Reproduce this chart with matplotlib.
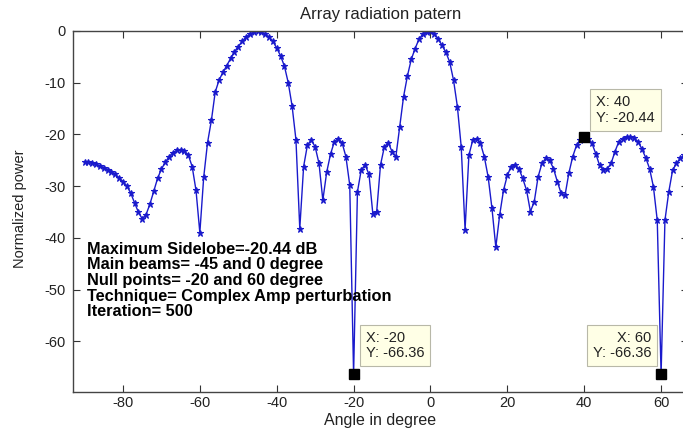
import matplotlib
matplotlib.use("Agg")
import matplotlib.pyplot as plt
import numpy as np

plt.rcParams['font.family'] = ['Liberation Sans', 'DejaVu Sans']
plt.rcParams['axes.unicode_minus'] = False

angles = list(range(-90, 67))
power = [
    -25.3, -25.4, -25.6, -25.8, -26.1, -26.4, -26.8, -27.2, -27.7, -28.4,   # -90..-81
    -29.1, -30.0, -31.3, -33.2, -35.0, -36.3, -35.5, -33.5, -31.0, -28.5,   # -80..-71
    -26.7, -25.4, -24.3, -23.5, -23.1, -23.0, -23.2, -24.0, -26.2, -30.8,   # -70..-61
    -39.0, -28.3, -21.6, -17.3, -11.8, -9.5, -8.0, -6.7, -5.3, -4.0,        # -60..-51
    -3.0, -2.0, -1.2, -0.6, -0.25, 0.0, -0.2, -0.6, -1.2, -2.0,            # -50..-41
    -3.3, -4.8, -6.8, -10.0, -14.5, -21.0, -38.2, -26.2, -22.0, -21.1,      # -40..-31
    -22.4, -25.6, -32.7, -27.3, -23.8, -21.4, -20.8, -21.6, -24.3, -29.8,   # -30..-21
    -66.36, -31.1, -26.8, -25.9, -27.7, -35.3, -35.0, -25.9, -22.4, -21.6,  # -20..-11
    -23.3, -24.3, -18.5, -12.7, -8.7, -5.5, -3.4, -1.6, -0.6, -0.1,         # -10..-1
    0.0, -0.5, -1.5, -2.8, -4.1, -6.0, -9.5, -14.6, -22.4, -38.4,           # 0..9
    -24.0, -21.1, -20.8, -21.7, -24.3, -28.2, -34.3, -41.8, -35.6, -30.8,   # 10..19
    -27.9, -26.2, -25.9, -26.6, -28.5, -30.8, -34.9, -33.0, -28.2, -25.6,   # 20..29
    -24.6, -25.0, -26.6, -29.1, -31.4, -31.8, -27.5, -24.3, -22.1, -21.0,   # 30..39
    -20.44, -20.8, -21.7, -23.7, -26.0, -26.9, -26.6, -25.6, -23.3, -21.4,  # 40..49
    -20.8, -20.5, -20.4, -20.7, -21.4, -22.8, -24.5, -26.6, -30.1, -36.6,   # 50..59
    -66.36, -36.6, -31.1, -26.9, -25.6, -24.6, -24.0,                       # 60..66
]

tip_x = [-20, 40, 60]
tip_y = [-66.36, -20.44, -66.36]

info_lines = [
    "Maximum Sidelobe=-20.44 dB",
    "Main beams= -45 and 0 degree",
    "Null points= -20 and 60 degree",
    "Technique= Complex Amp perturbation",
    "Iteration= 500",
]

W, H = 683, 433
fig = plt.figure(figsize=(W / 100, H / 100), dpi=100)
fig.patch.set_facecolor('white')

left_px, right_px, top_px, bot_px = 73, 688, 31, 392
ax = fig.add_axes([left_px / W, (H - bot_px) / H,
                   (right_px - left_px) / W, (bot_px - top_px) / H])

ax.plot(angles, power, '-', color='#1a1acc', lw=1.0,
        marker='*', markersize=4.5, markeredgewidth=0.8)

ax.set_xlim(-93.0, 67.0)
ax.set_ylim(-69.8, 0)
ax.set_xticks([-80, -60, -40, -20, 0, 20, 40, 60])
ax.set_yticks([0, -10, -20, -30, -40, -50, -60])
ax.tick_params(direction='in', top=True, right=True, length=5,
               labelsize=10.5, colors='#333333', labelcolor='#222222')
ax.tick_params(axis='x', pad=3)
ax.tick_params(axis='y', pad=5)
for s in ax.spines.values():
    s.set_color('#444444')
    s.set_linewidth(1.0)

# data tips
ax.plot(tip_x, tip_y, 's', color='black', markersize=7, zorder=5)
tip_style = dict(boxstyle='square,pad=0.4', fc='#ffffe6', ec='#b8b8a8', lw=0.8)
offsets = [(12, 14, 'left'), (12, 12, 'left'), (-10, 14, 'right')]
for x, y, (dx, dy, ha) in zip(tip_x, tip_y, offsets):
    ax.annotate(f"X: {x}\nY: {y:.2f}", xy=(x, y), xytext=(dx, dy),
                textcoords='offset pixels', ha=ha, va='bottom',
                fontsize=10.5, color='#222222', linespacing=1.15,
                bbox=tip_style, zorder=6)

for i, line in enumerate(info_lines):
    fig.text(87 / W, 1 - (249 + i * 15.7) / H, line, fontsize=11.8,
             fontweight='bold', color='black', va='center', ha='left')

fig.text(381 / W, 1 - 14 / H, "Array radiation patern", ha='center',
         va='center', fontsize=12, color='#222222')
fig.text(380 / W, 1 - 421 / H, "Angle in degree", ha='center',
         va='center', fontsize=11.5, color='#222222')
fig.text(20 / W, 1 - 209 / H, "Normalized power", ha='center',
         va='center', rotation=90, fontsize=10.5, color='#222222')

fig.savefig('out.png', dpi=100, facecolor='white')
